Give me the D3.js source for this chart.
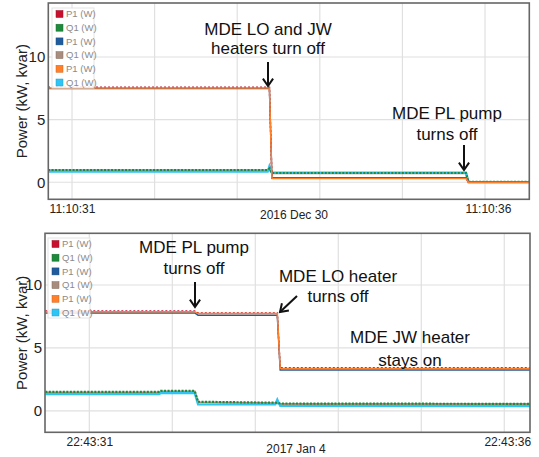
<!DOCTYPE html>
<html>
<head>
<meta charset="utf-8">
<script src="https://cdn.jsdelivr.net/npm/d3@7"></script>
<style>
  body { margin: 0; background: #fff; }
  svg { display: block; font-family: Arial, "Liberation Sans", sans-serif; }
</style>
</head>
<body>
<div id="chart"></div>
<script>
'use strict'

// series names, same for both panels
const seriesNames = ['P1 (W)', 'Q1 (W)', 'P1 (W)', 'Q1 (W)', 'P1 (W)', 'Q1 (W)']
const seriesColors = ['#c8102e', '#1e8a3c', '#1f5c9e', '#a88c7d', '#ff7f2a', '#2ec4f5']

// top panel, seconds after 11:10:00 on 2016 Dec 30
const topTimes = [30.71, 33.37, 33.39, 33.42, 35.77, 35.80, 36.54]
const topRedP = [7.58, 7.58, 7.58, 0.32, 0.32, 0.01, 0.01]
const topGreenQ = [0.98, 0.98, 1.10, 0.74, 0.74, 0.03, 0.03]
const topBlueP = [7.48, 7.48, 7.48, 0.36, 0.36, 0.02, 0.02]
const topBrownQ = [0.95, 0.95, 1.05, 0.72, 0.72, 0.02, 0.02]
const topOrangeP = [7.53, 7.53, 7.53, 0.30, 0.30, 0.00, 0.00]
const topCyanQ = [0.85, 0.85, 1.30, 0.77, 0.77, -0.02, -0.02]
const topTickSeconds = [31, 36]

// bottom panel, seconds after 22:43:00 on 2017 Jan 4
const botTimes = [30.47, 31.84, 31.86, 32.27, 32.31, 33.24, 33.265, 33.30, 36.31]
const botRedP = [7.93, 7.93, 7.93, 7.93, 7.78, 7.78, 7.78, 3.42, 3.42]
const botGreenQ = [1.50, 1.50, 1.58, 1.58, 0.72, 0.64, 0.64, 0.58, 0.55]
const botBlueP = [7.78, 7.78, 7.78, 7.78, 7.60, 7.60, 7.60, 3.25, 3.25]
const botBrownQ = [1.45, 1.45, 1.52, 1.52, 0.68, 0.60, 0.60, 0.55, 0.53]
const botOrangeP = [7.88, 7.88, 7.88, 7.88, 7.73, 7.73, 7.73, 3.37, 3.37]
const botCyanQ = [1.33, 1.33, 1.40, 1.40, 0.50, 0.50, 0.90, 0.38, 0.37]
const botTickSeconds = [31, 36]

const yTicks = [0, 5, 10]

const svg = d3.select('#chart').append('svg')
  .attr('width', 539)
  .attr('height', 457)

function drawPanel (cfg) {
  const g = svg.append('g')
  const base = cfg.base
  const toDate = s => new Date(base.getTime() + s * 1000)

  const x = d3.scaleTime()
    .domain([toDate(cfg.xDomain[0]), toDate(cfg.xDomain[1])])
    .range([cfg.left, cfg.right])
  const y = d3.scaleLinear().domain(cfg.yDomain).range([cfg.bottom, cfg.top])

  // grid
  const gridSeconds = d3.range(31, 37)
  g.selectAll('.vgrid').data(gridSeconds).enter().append('line')
    .attr('x1', d => x(toDate(d))).attr('x2', d => x(toDate(d)))
    .attr('y1', cfg.top).attr('y2', cfg.bottom)
    .attr('stroke', '#e0e0e0').attr('stroke-width', 1.2)
  g.selectAll('.hgrid').data(yTicks).enter().append('line')
    .attr('x1', cfg.left).attr('x2', cfg.right)
    .attr('y1', d => y(d)).attr('y2', d => y(d))
    .attr('stroke', '#e0e0e0').attr('stroke-width', 1.2)

  // lines
  const clipId = 'clip' + cfg.id
  svg.append('clipPath').attr('id', clipId).append('rect')
    .attr('x', cfg.left).attr('y', cfg.top)
    .attr('width', cfg.right - cfg.left).attr('height', cfg.bottom - cfg.top)
  const lineGen = d3.line()
    .x(d => x(toDate(d[0])))
    .y(d => y(d[1]))
  const lines = g.append('g').attr('clip-path', 'url(#' + clipId + ')')
  // draw order: Q band first, then P lines
  const order = [3, 5, 1, 2, 0, 4]
  order.forEach(i => {
    const pts = cfg.times.map((t, k) => [t, cfg.values[i][k]])
    const path = lines.append('path')
      .attr('d', lineGen(pts))
      .attr('fill', 'none')
      .attr('stroke', seriesColors[i])
      .attr('stroke-width', i % 2 === 1 ? 2.2 : 1.5)
    if (i === 1) path.attr('stroke-dasharray', '2,1.5')
    if (i === 0) path.attr('stroke-dasharray', '2,2')
  })

  // frame
  g.append('rect')
    .attr('x', cfg.left).attr('y', cfg.top)
    .attr('width', cfg.right - cfg.left).attr('height', cfg.bottom - cfg.top)
    .attr('fill', 'none').attr('stroke', '#666').attr('stroke-width', 1.6)

  // axes
  const yAxis = d3.axisLeft(y).tickValues(yTicks).tickSize(0).tickPadding(3)
  g.append('g').attr('transform', 'translate(' + cfg.left + ',0)').call(yAxis)
    .call(a => a.select('.domain').remove())
    .selectAll('text').attr('font-size', 15).attr('fill', '#222')
    .attr('font-family', 'Arial, "Liberation Sans", sans-serif')

  const xAxis = d3.axisBottom(x)
    .tickValues(cfg.tickSeconds.map(toDate))
    .tickFormat(d3.timeFormat('%H:%M:%S'))
    .tickSize(0).tickPadding(cfg.xPad)
  const xa = g.append('g').attr('transform', 'translate(0,' + cfg.bottom + ')').call(xAxis)
  xa.select('.domain').remove()
  xa.selectAll('text').attr('font-size', 12).attr('fill', '#222')
    .attr('font-family', 'Arial, "Liberation Sans", sans-serif')
  if (cfg.lastTickShift) {
    xa.selectAll('text').filter((d, i) => i === 1).attr('dx', cfg.lastTickShift)
  }

  g.append('text')
    .attr('x', cfg.dateX).attr('y', cfg.dateY)
    .attr('text-anchor', 'middle').attr('font-size', 12).attr('fill', '#222')
    .text(cfg.dateLabel)

  g.append('text')
    .attr('transform', 'translate(' + 27 + ',' + (cfg.top + cfg.bottom) / 2 + ') rotate(-90)')
    .attr('text-anchor', 'middle').attr('font-size', 15).attr('fill', '#222')
    .text('Power (kW, kvar)')

  // legend
  const lg = g.append('g')
  lg.append('rect')
    .attr('x', cfg.legX - 4).attr('y', cfg.legY - 6)
    .attr('width', 42).attr('height', 80)
    .attr('fill', 'rgba(255,255,255,0.85)').attr('stroke', '#e4e4e4')
  seriesNames.forEach((name, i) => {
    const yy = cfg.legY + i * 13.7
    lg.append('rect')
      .attr('x', cfg.legX).attr('y', yy - 3.5)
      .attr('width', 7).attr('height', 7)
      .attr('fill', seriesColors[i]).attr('stroke', d3.color(seriesColors[i]).darker(0.6))
      .attr('stroke-width', 0.5)
    lg.append('text')
      .attr('x', cfg.legX + 10).attr('y', yy + 3.3)
      .attr('font-size', 9.5).attr('fill', '#8a8a8a')
      .text(name)
  })

  // annotations
  cfg.notes.forEach(n => {
    n.lines.forEach((t, k) => {
      g.append('text')
        .attr('x', n.x).attr('y', n.y + k * n.dy)
        .attr('text-anchor', 'middle').attr('font-size', 17).attr('fill', '#111')
        .text(t)
    })
    if (n.arrow) drawArrow(g, n.arrow[0], n.arrow[1], n.arrow[2], n.arrow[3])
  })
}

function drawArrow (g, x1, y1, x2, y2) {
  const ang = Math.atan2(y2 - y1, x2 - x1)
  const len = 9
  const spread = 0.6
  g.append('line')
    .attr('x1', x1).attr('y1', y1).attr('x2', x2).attr('y2', y2)
    .attr('stroke', '#111').attr('stroke-width', 2)
  const p = [
    [x2 - len * Math.cos(ang - spread), y2 - len * Math.sin(ang - spread)],
    [x2, y2],
    [x2 - len * Math.cos(ang + spread), y2 - len * Math.sin(ang + spread)]
  ]
  g.append('path').attr('d', d3.line()(p))
    .attr('fill', 'none').attr('stroke', '#111').attr('stroke-width', 2)
}

drawPanel({
  id: 'top',
  base: new Date(2016, 11, 30, 11, 10, 0),
  xDomain: [30.713, 36.536],
  yDomain: [-1.36, 14.31],
  left: 48.3,
  right: 529.3,
  top: 3,
  bottom: 199.3,
  xPad: 5,
  times: topTimes,
  values: [topRedP, topGreenQ, topBlueP, topBrownQ, topOrangeP, topCyanQ],
  tickSeconds: topTickSeconds,
  lastTickShift: 3,
  dateLabel: '2016 Dec 30',
  dateX: 294,
  dateY: 219,
  legX: 56,
  legY: 14,
  notes: [
    { lines: ['MDE LO and JW', 'heaters turn off'], x: 268, y: 35, dy: 18.5, arrow: [268, 62, 268, 86] },
    { lines: ['MDE PL pump', 'turns off'], x: 447, y: 119, dy: 21, arrow: [464, 145, 464, 170] }
  ]
})

drawPanel({
  id: 'bot',
  base: new Date(2017, 0, 4, 22, 43, 0),
  xDomain: [30.466, 36.31],
  yDomain: [-1.71, 14.11],
  left: 45,
  right: 530,
  top: 233.3,
  bottom: 432.3,
  xPad: 5,
  times: botTimes,
  values: [botRedP, botGreenQ, botBlueP, botBrownQ, botOrangeP, botCyanQ],
  tickSeconds: botTickSeconds,
  lastTickShift: 3,
  dateLabel: '2017 Jan 4',
  dateX: 296,
  dateY: 453,
  legX: 52,
  legY: 244,
  notes: [
    { lines: ['MDE PL pump', 'turns off'], x: 194, y: 253, dy: 21, arrow: [195, 282, 195, 307] },
    { lines: ['MDE LO heater', 'turns off'], x: 338, y: 282, dy: 20, arrow: [297, 296, 280, 312] },
    { lines: ['MDE JW heater', 'stays on'], x: 410, y: 343, dy: 23, arrow: null }
  ]
})
</script>
</body>
</html>
